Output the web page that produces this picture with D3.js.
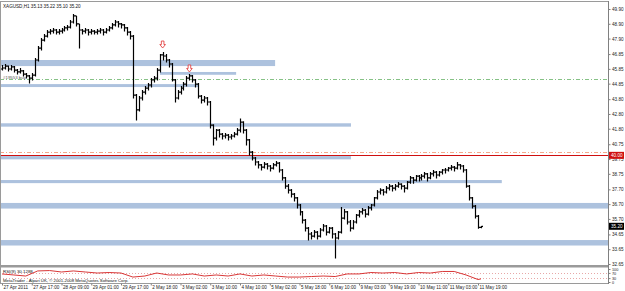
<!DOCTYPE html>
<html>
<head>
<meta charset="utf-8">
<script src="https://cdn.jsdelivr.net/npm/d3@7"></script>
<style>
    body { margin: 0; background: #fff; }
    svg { display: block; font-family: "Liberation Sans", Arial, sans-serif; }
</style>
</head>
<body>
<svg id="chart" width="625" height="291"></svg>
<script>
// Chart header and footer texts
var title = "XAGUSD,H1 35.13 35.22 35.10 35.20";
var rsiTitle = "RSI(9) 30.1288";
var copyright = "MetaTrader - Alpari UK, \u00a9 2001-2008 MetaQuotes Software Corp.";
var orderLabel = "#19553 buy";

// Time axis labels, one every 10 bars
var timeLabels = ["27 Apr 2011", "27 Apr 17:00", "28 Apr 09:00", "29 Apr 01:00", "29 Apr 17:00",
    "2 May 18:00", "3 May 02:00", "3 May 10:00", "4 May 10:00", "5 May 02:00", "5 May 18:00",
    "6 May 10:00", "9 May 03:00", "9 May 19:00", "10 May 11:00", "11 May 03:00", "11 May 19:00"];
var timeLabelBars = [0, 10, 20, 30, 40, 50, 60, 70, 80, 90, 100, 110, 120, 130, 140, 150, 160];

// Price axis tick labels
var priceTicks = [49.90, 48.90, 47.90, 46.85, 45.85, 44.85, 43.80, 42.80, 41.80, 40.75,
    39.75, 38.75, 37.70, 36.70, 35.70, 34.65, 33.65, 32.65];
var rsiTicks = [100, 70, 30, 0];

// H1 bars (open of each bar = previous close)
var firstOpen = 45.84;
var highs = [
    46.11, 46.18, 46.08, 46.11, 46.04, 45.84, 45.91, 45.77, 45.57, 45.43,
    45.57, 46.59, 47.40, 47.94, 48.21, 48.48, 48.55, 48.62, 48.55, 48.55,
    48.62, 48.75, 48.82, 49.16, 49.56, 49.43, 48.89, 48.55, 48.62, 48.55,
    48.55, 48.48, 48.55, 48.62, 48.55, 48.62, 48.75, 48.96, 49.16, 49.09,
    48.96, 48.89, 48.68, 48.41, 48.14, 44.15, 44.01, 44.42, 44.69, 44.89,
    45.23, 45.37, 45.91, 46.86, 46.99, 46.86, 46.52, 46.25, 45.16, 44.42,
    44.69, 44.96, 45.37, 45.50, 45.43, 45.16, 44.89, 44.08, 44.01, 43.95,
    43.67, 42.11, 41.78, 41.78, 41.51, 41.51, 41.44, 41.44, 41.58, 41.85,
    42.49, 42.31, 41.78, 41.11, 40.29, 39.89, 39.62, 39.42, 39.55, 39.48,
    39.35, 39.48, 39.62, 39.55, 39.08, 38.54, 38.06, 37.72, 37.45, 37.18,
    36.71, 36.24, 35.69, 35.15, 34.81, 34.95, 34.88, 35.08, 35.35, 35.29,
    35.15, 35.15, 34.75, 34.88, 36.50, 36.37, 36.24, 35.62, 35.62, 36.03,
    36.30, 36.44, 36.37, 36.57, 36.71, 37.18, 37.65, 37.78, 37.72, 37.92,
    38.06, 37.99, 38.06, 38.19, 38.12, 37.99, 38.26, 38.60, 38.54, 38.67,
    38.67, 38.74, 38.87, 38.80, 38.87, 39.01, 38.94, 38.94, 39.08, 39.14,
    39.21, 39.35, 39.28, 39.55, 39.42, 39.35, 39.08, 37.99, 37.18, 36.64,
    35.96, 35.22];
var lows = [
    45.77, 45.84, 45.71, 45.77, 45.64, 45.50, 45.57, 45.37, 45.23, 44.89,
    45.10, 45.37, 46.38, 47.13, 47.73, 48.00, 48.21, 48.28, 48.21, 48.21,
    48.28, 48.41, 48.48, 48.62, 48.96, 48.75, 47.26, 48.21, 48.28, 48.14,
    48.21, 48.21, 48.21, 48.28, 48.14, 48.28, 48.41, 48.55, 48.75, 48.68,
    48.62, 48.41, 48.14, 47.87, 43.88, 42.39, 43.00, 43.74, 44.15, 44.42,
    44.62, 44.96, 45.10, 45.64, 46.45, 46.31, 45.98, 45.03, 43.61, 43.81,
    44.15, 44.42, 44.69, 45.10, 44.96, 44.62, 43.88, 43.54, 43.61, 43.40,
    41.85, 40.70, 41.04, 41.24, 41.11, 41.17, 41.04, 41.11, 41.24, 41.37,
    41.58, 41.51, 40.70, 40.02, 39.68, 39.35, 39.14, 39.01, 39.14, 39.08,
    38.94, 39.08, 39.28, 38.87, 38.33, 37.78, 37.45, 37.18, 36.91, 36.44,
    35.96, 35.42, 34.88, 34.27, 34.34, 34.47, 34.34, 34.47, 34.88, 34.61,
    34.75, 34.41, 33.05, 34.34, 34.75, 35.69, 35.35, 34.88, 35.01, 35.42,
    35.83, 36.03, 35.83, 35.96, 36.30, 36.57, 37.05, 37.38, 37.31, 37.45,
    37.65, 37.58, 37.65, 37.85, 37.72, 37.52, 37.72, 38.12, 38.12, 38.26,
    38.26, 38.33, 38.47, 38.26, 38.41, 38.60, 38.47, 38.60, 38.74, 38.80,
    38.94, 39.01, 38.94, 39.08, 39.08, 38.87, 37.85, 36.98, 36.44, 35.76,
    35.06, 35.10];
var closes = [
    45.91, 46.04, 45.84, 45.98, 45.77, 45.64, 45.71, 45.50, 45.37, 45.23,
    45.43, 46.45, 47.26, 47.80, 48.07, 48.34, 48.41, 48.48, 48.34, 48.41,
    48.48, 48.62, 48.68, 49.02, 49.43, 48.89, 48.48, 48.41, 48.48, 48.34,
    48.41, 48.34, 48.41, 48.48, 48.34, 48.48, 48.62, 48.82, 49.02, 48.89,
    48.82, 48.62, 48.34, 48.07, 44.08, 43.07, 43.88, 44.28, 44.55, 44.76,
    45.10, 45.23, 45.77, 46.79, 46.72, 46.45, 46.18, 45.10, 43.88, 44.28,
    44.55, 44.82, 45.23, 45.37, 45.10, 44.82, 44.01, 43.74, 43.88, 43.61,
    42.05, 41.17, 41.71, 41.44, 41.31, 41.37, 41.24, 41.31, 41.44, 41.71,
    42.25, 41.71, 41.04, 40.22, 39.82, 39.55, 39.35, 39.21, 39.41, 39.28,
    39.14, 39.35, 39.48, 39.01, 38.47, 37.92, 37.65, 37.38, 37.12, 36.64,
    36.17, 35.62, 35.08, 34.68, 34.54, 34.81, 34.54, 34.95, 35.22, 34.81,
    35.08, 34.68, 34.41, 34.81, 35.76, 36.17, 35.49, 35.08, 35.49, 35.96,
    36.17, 36.30, 36.03, 36.44, 36.64, 37.12, 37.52, 37.65, 37.52, 37.78,
    37.92, 37.78, 37.92, 38.06, 37.92, 37.78, 38.19, 38.47, 38.33, 38.60,
    38.47, 38.60, 38.74, 38.47, 38.74, 38.87, 38.67, 38.87, 39.01, 39.01,
    39.14, 39.21, 39.14, 39.35, 39.28, 39.01, 37.92, 37.12, 36.57, 35.89,
    35.13, 35.20];

// Support / resistance rectangles: [fromBar, toBar, upperPrice, lowerPrice]
var zones = [
    [-5, 91.8, 46.45, 46.04],
    [53.1, 78.7, 45.64, 45.45],
    [-5, 65.9, 44.82, 44.62],
    [-5, 117.3, 42.17, 41.94],
    [-5, 117.3, 39.95, 39.73],
    [-5, 168.0, 38.33, 38.12],
    [-5, 210.0, 36.78, 36.40],
    [-5, 210.0, 34.27, 33.90]
];

// Horizontal levels
var greenLevel = 45.16;
var orangeLevel = 40.25;
var redLevel = 40.00;
var lastPrice = 35.20;

// Fractal arrows: bar index, arrow tip price
var arrowBars = [54, 63];
var arrowPrices = [47.26, 45.64];

// RSI(9), read every 4 bars plus last bar
var rsiBars = [0, 4, 8, 12, 16, 20, 24, 28, 32, 36, 40, 44, 48, 52, 56, 60, 64, 68, 72, 76,
    80, 84, 88, 92, 96, 100, 104, 108, 112, 116, 120, 124, 128, 132, 136, 140, 144, 148, 152,
    156, 160, 161];
var rsiValues = [62, 54, 46, 85, 88, 77, 85, 77, 69, 73, 69, 38, 46, 69, 54, 54, 62, 46, 54, 46,
    62, 46, 54, 46, 38, 38, 42, 46, 42, 62, 62, 73, 69, 73, 62, 73, 69, 81, 81,
    54, 19, 24];

var svg = d3.select("#chart");
var right = 608, mainTop = 2, mainBottom = 265, rsiTop = 268, rsiBottom = 283;

var x = d3.scaleLinear().domain([0, 160]).range([2, 478]);
var y = d3.scaleLinear().domain([32.65, 49.90]).range([264, 9]);
var yR = d3.scaleLinear().domain([0, 100]).range([282, 269]);

svg.append("clipPath").attr("id", "mainClip")
    .append("rect").attr("x", 1).attr("y", mainTop).attr("width", right - 1).attr("height", mainBottom - mainTop);
svg.append("clipPath").attr("id", "rsiClip")
    .append("rect").attr("x", 1).attr("y", rsiTop).attr("width", right - 1).attr("height", rsiBottom - rsiTop);

var main = svg.append("g").attr("clip-path", "url(#mainClip)");

// zones
main.selectAll(".zone")
    .data(zones)
    .enter().append("rect")
    .attr("class", "zone")
    .attr("x", d => x(d[0]))
    .attr("width", d => x(d[1]) - x(d[0]))
    .attr("y", d => y(d[2]))
    .attr("height", d => y(d[3]) - y(d[2]))
    .attr("fill", "#adc2de");

// levels
function level(p, color, dash, w) {
    main.append("line")
        .attr("x1", 0).attr("x2", right)
        .attr("y1", Math.round(y(p)) + 0.5).attr("y2", Math.round(y(p)) + 0.5)
        .attr("stroke", color).attr("stroke-width", w)
        .attr("stroke-dasharray", dash);
}
level(greenLevel, "#86c286", "4,2,1,2", 1);
level(orangeLevel, "#f4a88c", "4,2,1,2", 1);
level(redLevel, "#d01010", null, 1);

main.append("text")
    .attr("x", 3).attr("y", y(greenLevel) - 0.5)
    .attr("font-size", 4.4).attr("fill", "#555")
    .text(orderLabel);

// OHLC bars
var opens = closes.map((c, i) => i === 0 ? firstOpen : closes[i - 1]);
main.append("path")
    .attr("fill", "none")
    .attr("stroke", "#000")
    .attr("stroke-width", 1.2)
    .attr("d", closes.map(function (c, i) {
        var px = Math.round(x(i)) + 0.5;
        var hi = Math.max(highs[i], opens[i], c), lo = Math.min(lows[i], opens[i], c);
        var yo = y(opens[i]), yc = y(c);
        return "M" + px + "," + y(hi) + "V" + (y(lo) + 0.5) +
            "M" + (px - 1.5) + "," + yo + "H" + px +
            "M" + px + "," + yc + "H" + (px + 1.5);
    }).join(""));

// arrows
main.selectAll(".arrow")
    .data(arrowBars)
    .enter().append("path")
    .attr("class", "arrow")
    .attr("fill", "#fff")
    .attr("stroke", "#e03030")
    .attr("stroke-width", 0.8)
    .attr("d", function (b, i) {
        var cx = x(b), t = y(arrowPrices[i]);
        return "M" + (cx - 1.3) + "," + (t - 7) + "H" + (cx + 1.3) + "V" + (t - 3.5) +
            "H" + (cx + 2.8) + "L" + cx + "," + t + "L" + (cx - 2.8) + "," + (t - 3.5) +
            "H" + (cx - 1.3) + "Z";
    });

// RSI panel
var rsiG = svg.append("g").attr("clip-path", "url(#rsiClip)");
[70, 30].forEach(function (v) {
    rsiG.append("line")
        .attr("x1", 0).attr("x2", right)
        .attr("y1", Math.round(yR(v)) + 0.5).attr("y2", Math.round(yR(v)) + 0.5)
        .attr("stroke", "#e8a8a8").attr("stroke-dasharray", "1,2");
});
rsiG.append("path")
    .datum(rsiValues)
    .attr("fill", "none")
    .attr("stroke", "#d42020")
    .attr("stroke-width", 0.9)
    .attr("d", d3.line().x((d, i) => x(rsiBars[i])).y(d => yR(d)));

// frame
svg.append("rect").attr("x", 0).attr("y", mainBottom).attr("width", right).attr("height", 2.5).attr("fill", "#9a9a9a");
svg.append("line").attr("x1", 0.5).attr("x2", 0.5).attr("y1", 1).attr("y2", rsiBottom + 1).attr("stroke", "#9a9a9a");
svg.append("line").attr("x1", 0).attr("x2", right).attr("y1", 1.5).attr("y2", 1.5).attr("stroke", "#9a9a9a");
svg.append("line").attr("x1", 0).attr("x2", right).attr("y1", rsiBottom + 0.5).attr("y2", rsiBottom + 0.5).attr("stroke", "#9a9a9a");
svg.append("line").attr("x1", right + 0.5).attr("x2", right + 0.5).attr("y1", 1).attr("y2", rsiBottom + 1).attr("stroke", "#808080");

// texts
svg.append("text").attr("x", 3).attr("y", 7.5).attr("font-size", 4.6).attr("fill", "#111").text(title);
svg.append("text").attr("x", 3).attr("y", 272.5).attr("font-size", 4.4).attr("fill", "#111").text(rsiTitle);
svg.append("text").attr("x", 3).attr("y", 281.5).attr("font-size", 4.3).attr("fill", "#111").text(copyright);

// price axis
var yAxis = svg.append("g")
    .attr("transform", "translate(" + (right + 0.5) + ",0)")
    .call(d3.axisRight(y).tickValues(priceTicks).tickSize(2).tickPadding(1.5).tickFormat(d3.format(".2f")));
yAxis.select(".domain").remove();
yAxis.selectAll("line").attr("stroke", "#808080");
yAxis.selectAll("text").attr("font-size", 4.6).attr("fill", "#222").attr("font-family", "Liberation Sans, Arial, sans-serif");

// rsi axis
var rAxis = svg.append("g")
    .attr("transform", "translate(" + (right + 0.5) + ",0)")
    .call(d3.axisRight(yR).tickValues(rsiTicks).tickSize(2).tickPadding(1.5));
rAxis.select(".domain").remove();
rAxis.selectAll("line").attr("stroke", "#808080");
rAxis.selectAll("text").attr("font-size", 3.8).attr("fill", "#222").attr("font-family", "Liberation Sans, Arial, sans-serif");

// price markers on the axis
function marker(p, fill) {
    var cy = y(p);
    svg.append("rect").attr("x", right + 1).attr("y", cy - 3.5).attr("width", 15).attr("height", 7).attr("fill", fill);
    svg.append("text").attr("x", right + 3).attr("y", cy + 1.7)
        .attr("font-size", 4.6).attr("fill", "#fff").text(d3.format(".2f")(p));
}
marker(redLevel, "#d01010");
marker(lastPrice, "#000");

// time axis
var xAxis = svg.append("g")
    .attr("transform", "translate(0," + (rsiBottom + 0.5) + ")")
    .call(d3.axisBottom(x).tickValues(timeLabelBars).tickSize(2).tickFormat((d, i) => timeLabels[i]));
xAxis.select(".domain").remove();
xAxis.selectAll("line").attr("stroke", "#808080");
xAxis.selectAll("text")
    .attr("text-anchor", "start")
    .attr("x", 1).attr("y", 2.2)
    .attr("font-size", 4.6).attr("fill", "#222").attr("font-family", "Liberation Sans, Arial, sans-serif");
</script>
</body>
</html>
